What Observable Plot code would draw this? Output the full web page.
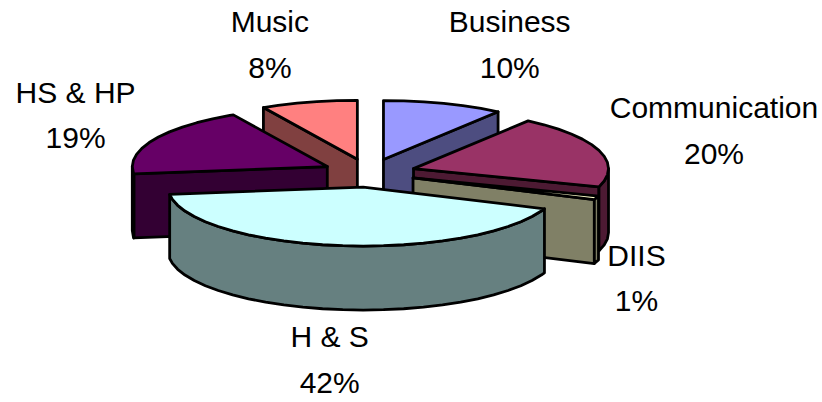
<!DOCTYPE html>
<html>
<head>
<meta charset="utf-8">
<script src="https://cdn.jsdelivr.net/npm/d3@7"></script>
<script src="https://cdn.jsdelivr.net/npm/@observablehq/plot@0.6"></script>
<style>html,body{margin:0;padding:0;background:#fff}svg{display:block}</style>
</head>
<body>
<div id="chart"></div>
<script>
// Data, clockwise from 12 o'clock
const categories = ["Business", "Communication", "DIIS", "H & S", "HS & HP", "Music"];
const shares = [10, 20, 1, 42, 19, 8];
const topColors = ["#9999FF", "#993366", "#FFFFCC", "#CCFFFF", "#660066", "#FF8080"];
const sideColors = ["#4D4D80", "#4D1A33", "#808066", "#668080", "#330033", "#804040"];
const paintOrder = [5, 0, 4, 1, 2, 3];
// Label placement relative to the slice's rim midpoint
const labelShift = [[66, -63], [115, -24], [40, 76], [-9, 110], [-78, -29], [-39, -62]];

// Pie geometry
const cx = 368.5, cy = 172.5, rx = 195, ry = 59, depth = 64, explode = 0.24, step = 6;
const rad = a => a * Math.PI / 180;
const total = d3.sum(shares);
let run = 0;
const slices = shares.map((s, i) => {
  const a0 = run / total * 360;
  run += s;
  const a1 = run / total * 360;
  const mid = (a0 + a1) / 2;
  return {i, a0, a1, mid,
    ox: cx + explode * rx * Math.sin(rad(mid)),
    oy: cy - explode * ry * Math.cos(rad(mid))};
});
const rim = (s, a, drop = 0) => ({
  x: s.ox + rx * Math.sin(rad(a)),
  y: s.oy - ry * Math.cos(rad(a)) + drop
});
const angles = (a, b) => {
  const out = [a];
  for (let t = Math.ceil(a / step + 1e-6) * step; t < b; t += step) out.push(t);
  out.push(b);
  return out;
};

const points = [];
let faceId = 0;
const addFace = (pts, fill) => {
  const z = faceId++;
  pts.forEach(p => points.push({x: p.x, y: p.y, z, fill}));
};
for (const i of paintOrder) {
  const s = slices[i];
  const apex = {x: s.ox, y: s.oy};
  const low = {x: s.ox, y: s.oy + depth};
  const side = sideColors[i];
  if (Math.sin(rad(s.a0)) < -1e-6) addFace([apex, rim(s, s.a0), rim(s, s.a0, depth), low], side);
  if (Math.sin(rad(s.a1)) > 1e-6) addFace([apex, rim(s, s.a1), rim(s, s.a1, depth), low], side);
  const w0 = Math.max(s.a0, 90), w1 = Math.min(s.a1, 270);
  if (w1 > w0) {
    const as = angles(w0, w1);
    addFace([...as.map(a => rim(s, a)), ...as.slice().reverse().map(a => rim(s, a, depth))], side);
  }
  addFace([apex, ...angles(s.a0, s.a1).map(a => rim(s, a))], topColors[i]);
}

const labels = slices.map((s, i) => {
  const p = {
    x: s.ox + rx * Math.sin(rad(s.mid)),
    y: s.oy - ry * Math.cos(rad(s.mid))
  };
  return {
    x: p.x + labelShift[i][0],
    y: p.y + labelShift[i][1],
    text: `${categories[i]}\n${shares[i]}%`
  };
});

const chart = Plot.plot({
  width: 822, height: 402,
  margin: 0,
  x: {axis: null, domain: [0, 822], range: [0, 822]},
  y: {axis: null, domain: [0, 402], range: [0, 402]},
  color: {type: "identity"},
  marks: [
    Plot.line(points, {
      x: "x", y: "y", z: "z", fill: "fill",
      stroke: "#000", strokeWidth: 2.8, strokeLinejoin: "round",
      curve: "linear-closed"
    }),
    Plot.text(labels, {
      x: "x", y: "y", text: "text",
      fontSize: 30, lineHeight: 1.53,
      fontFamily: "Liberation Sans, Arial, sans-serif",
      fill: "#000"
    })
  ]
});
document.getElementById("chart").append(chart);
</script>
</body>
</html>
